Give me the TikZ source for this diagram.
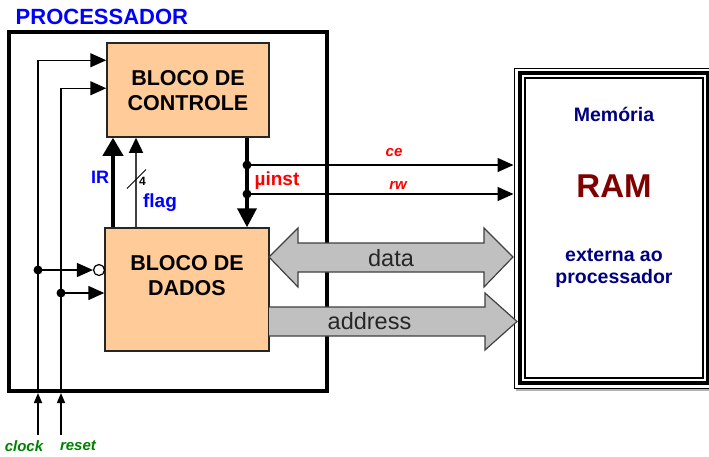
\documentclass[tikz,border=0pt]{standalone}
\usepackage{fontspec}
\setmainfont{Liberation Sans}
\usetikzlibrary{arrows.meta}
\definecolor{peach}{RGB}{255,204,153}
\definecolor{busgray}{RGB}{192,192,192}
\definecolor{procblue}{RGB}{0,0,255}
\definecolor{sigred}{RGB}{255,0,0}
\definecolor{ctlgreen}{RGB}{0,128,0}
\definecolor{memnavy}{RGB}{0,0,128}
\definecolor{ramred}{RGB}{128,0,0}
\newcommand{\fs}[1]{\fontsize{#1}{#1}\selectfont}
\begin{document}
\begin{tikzpicture}[x=1pt,y=-1pt,
  block/.style={draw=black!85, line width=1.5pt, fill=peach, inner sep=0pt},
  blocktext/.style={align=center, font=\fontsize{21.5}{25}\selectfont\bfseries},
  sig/.style={line width=1.5pt},
  heavy/.style={line width=3.8pt},
  tipin/.style={-{Triangle[length=16pt,width=14pt]}},
  tipext/.style={-{Triangle[length=10pt,width=8pt]}},
  tipram/.style={-{Triangle[length=16pt,width=14pt]}},
  dot/.style={circle, fill=black, inner sep=0pt, minimum size=9pt},
  busarrow/.style={fill=busgray, draw=black!75, line width=1.2pt, line join=miter},
  bustext/.style={font=\fs{23.5}, text=black!85},
  ctltext/.style={font=\fs{15}\bfseries\itshape, text=ctlgreen},
  rwtext/.style={font=\fs{15}\bfseries\itshape, text=sigred},
  memtext/.style={font=\fs{19.5}\bfseries, text=memnavy, align=center}]
\useasboundingbox (0,0) rectangle (709,456);

% processor frame and title
\node[draw, line width=4pt, minimum width=318pt, minimum height=359pt, inner sep=0pt] (proc) at (168,211.5) {};
\node[anchor=west, font=\fs{22}\bfseries, text=procblue, inner sep=0pt] (title) at (15.5,16.5) {PROCESSADOR};

% control and data blocks
\node[block, minimum width=162pt, minimum height=94pt] (ctrl) at (188,90) {};
\node[blocktext] (ctrltxt) at (188,91) {BLOCO DE\\CONTROLE};
\node[block, minimum width=164pt, minimum height=123pt] (data) at (187,289.5) {};
\node[blocktext] (datatxt) at (187,276) {BLOCO DE\\DADOS};

% external memory
\node[draw, line width=1pt, minimum width=199pt, minimum height=320pt, inner sep=0pt] (ram) at (613.5,228) {};
\draw[line width=4pt] (520,72.5) rectangle (708,383);
\draw[line width=1.3pt] (525,78) rectangle (703,378);
\draw[black!30, line width=1.5pt] (516,389.8) -- (713,389.8);
\node[memtext] (mem) at (614,114) {Memória};
\node[font=\fs{33}\bfseries, text=ramred] (ramtxt) at (614,186) {RAM};
\node[memtext, font=\fontsize{19.5}{22}\selectfont\bfseries] (ext) at (614,268) {externa ao\\processador};

% clock and reset inputs
\coordinate (clk) at (38,435);
\coordinate (rst) at (61,435);
\draw[sig, tipext] (clk) -- (clk |- proc.south);
\draw[sig, tipext] (rst) -- (rst |- proc.south);
\draw[sig, tipin] (clk |- proc.south) |- ([yshift=-18pt]ctrl.north west);
\draw[sig, tipin] (rst |- proc.south) |- ([yshift=-46pt]ctrl.north west);
\node[ctltext] (clklbl) at (24,446) {clock};
\node[ctltext] (rstlbl) at (78,446) {reset};

\node[dot] (clkdot) at (38,270) {};
\node[dot] (rstdot) at (61,293) {};
\node[circle, draw, fill=white, line width=1.2pt, minimum size=11pt, inner sep=0pt] (neg) at (99,270) {};
\draw[sig, tipin] (clkdot.center) -- (neg.west);
\draw[sig, tipin] (rstdot.center) -- (rstdot.center -| data.west);

% IR and flag from data to control
\coordinate (xir) at (113,0);
\coordinate (xflag) at (136,0);
\draw[heavy, -{Triangle[length=18pt,width=20pt]}] (data.north -| xir) -- (ctrl.south -| xir);
\draw[sig, draw=black!75, -{Triangle[length=15pt,width=14pt,color=black]}] (data.north -| xflag) -- (ctrl.south -| xflag);
\draw[line width=1pt] (127,188.5) -- (146,169.5);
\node[font=\fs{12}\bfseries, inner sep=0pt] (width4) at (142.5,181) {4};
\node[font=\fs{18}\bfseries, text=procblue] (irlbl) at (100,177) {IR};
\node[font=\fs{19}\bfseries, text=procblue] (flaglbl) at (160,203) {flag};

% micro-instruction from control to data
\coordinate (xmi) at (247,0);
\draw[heavy, -{Triangle[length=19pt,width=19pt]}] (ctrl.south -| xmi) -- (data.north -| xmi);
\node[dot] (cedot) at (247,165) {};
\node[dot] (rwdot) at (247,194) {};
\node[font=\fs{19}\bfseries, text=sigred] (milbl) at (277,181) {µinst};
\draw[sig, tipram] (cedot.center) -- (cedot.center -| ram.west);
\draw[sig, tipram] (rwdot.center) -- (rwdot.center -| ram.west);
\node[rwtext] (celbl) at (394,153) {ce};
\node[rwtext] (rwlbl) at (398,185) {rw};

% data and address buses
\draw[busarrow] (269,257) -- (298,228) -- (298,243) -- (484,243) -- (484,228) -- (513,257)
  -- (484,287) -- (484,272) -- (298,272) -- (298,287) -- cycle;
\draw[busarrow] (269,307) -- (485,307) -- (485,293) -- (517,321.5) -- (485,350) -- (485,336) -- (269,336);
\node[bustext] (datalbl) at (391,258) {data};
\node[bustext] (addrlbl) at (369.5,321) {address};
\end{tikzpicture}
\end{document}
